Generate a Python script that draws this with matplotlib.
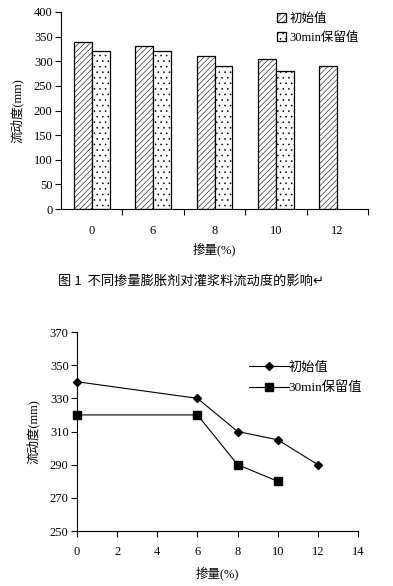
import matplotlib
matplotlib.use("Agg")
import matplotlib.pyplot as plt
import numpy as np

plt.rcParams['font.family'] = ['Liberation Serif', 'Noto Sans CJK SC', 'DejaVu Sans']
plt.rcParams['hatch.linewidth'] = 0.4

# data
dosage_labels = ["0", "6", "8", "10", "12"]
dosage_values = [0, 6, 8, 10, 12]
initial_flow = [340, 330, 310, 305, 290]
retained_dosage = [0, 6, 8, 10]
retained_flow = [320, 320, 290, 280]

name_initial = "初始值"
name_retained = "30min保留值"
ylabel = "流动度(mm)"
xlabel = "掺量(%)"
caption = "图 1  不同掺量膨胀剂对灌浆料流动度的影响↵"

fig = plt.figure(figsize=(3.93, 5.86), dpi=100)

# ---- top: bar chart ----
ax1 = fig.add_axes([61 / 393, 1 - 209 / 586, 307 / 393, 197 / 586])
x = np.arange(len(dosage_labels))
w = 0.29
ax1.bar(x - w / 2, initial_flow, w, color="white", edgecolor="black",
        hatch="//////", linewidth=0.9, label=name_initial)
ax1.bar(x[:len(retained_flow)] + w / 2, retained_flow, w, color="white",
        edgecolor="black", hatch="...", linewidth=0.9, label=name_retained)
ax1.set_xlim(-0.5, len(dosage_labels) - 0.5)
ax1.set_ylim(0, 400)
ax1.set_yticks(range(0, 401, 50))
ax1.set_xticks(x)
ax1.set_xticklabels(dosage_labels)
ax1.set_xticks(np.arange(0.5, len(dosage_labels), 1), minor=True)
ax1.tick_params(axis="x", which="major", length=0, pad=11.5, labelsize=9)
ax1.tick_params(axis="x", which="minor", length=4, width=0.8, direction="out")
ax1.tick_params(axis="y", length=4, width=0.8, direction="out", labelsize=9, pad=2)
for s in ["top", "right"]:
    ax1.spines[s].set_visible(False)
ax1.spines["left"].set_linewidth(0.8)
ax1.spines["bottom"].set_linewidth(0.8)
ax1.set_ylabel(ylabel, fontsize=9, labelpad=7)
ax1.set_xlabel(xlabel, fontsize=9, labelpad=4)
ax1.legend(loc="upper left", bbox_to_anchor=(272 / 393, 1 - 8 / 586),
           bbox_transform=fig.transFigure, frameon=False, fontsize=9,
           handlelength=0.7, handleheight=0.7, handletextpad=0.3,
           labelspacing=0.55, borderaxespad=0)

fig.text(0.5 * (53 + 330) / 393, 1 - 281 / 586, caption, ha="center",
         va="center", fontsize=9.5,
         family=['Noto Sans CJK SC', 'DejaVu Sans'])

# ---- bottom: line chart ----
ax2 = fig.add_axes([77 / 393, 1 - 531 / 586, 281 / 393, 199 / 586])
ax2.plot(dosage_values, initial_flow, color="black", linewidth=0.8,
         marker="D", markersize=4, label=name_initial, clip_on=False)
ax2.plot(retained_dosage, retained_flow, color="black", linewidth=0.8,
         marker="s", markersize=5.5, label=name_retained, clip_on=False)
ax2.set_xlim(0, 14)
ax2.set_ylim(250, 370)
ax2.set_xticks(range(0, 15, 2))
ax2.set_yticks(range(250, 371, 20))
ax2.tick_params(axis="x", length=4, width=0.8, direction="out", labelsize=9, pad=7)
ax2.tick_params(axis="y", length=4, width=0.8, direction="out", labelsize=9, pad=2)
for s in ["top", "right"]:
    ax2.spines[s].set_visible(False)
ax2.spines["left"].set_linewidth(0.8)
ax2.spines["bottom"].set_linewidth(0.8)
ax2.set_ylabel(ylabel, fontsize=9, labelpad=7)
ax2.set_xlabel(xlabel, fontsize=9, labelpad=6)
ax2.legend(loc="upper left", bbox_to_anchor=(244 / 393, 1 - 356 / 586),
           bbox_transform=fig.transFigure, frameon=False, fontsize=9.5,
           handlelength=3.0, handletextpad=0.0, labelspacing=0.6,
           borderaxespad=0)

fig.savefig("out.png", dpi=100)
